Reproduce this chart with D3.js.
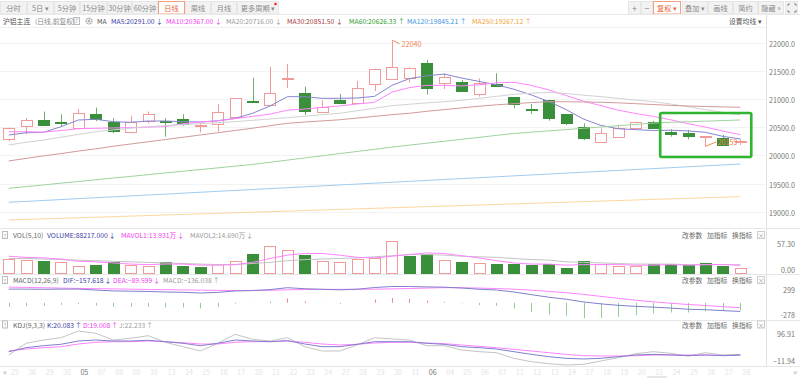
<!DOCTYPE html>
<html>
<head>
<meta charset="utf-8">
<script src="https://cdn.jsdelivr.net/npm/d3@7/dist/d3.min.js"></script>
<style>
body { margin: 0; background: #fff; }
text { font-family: "Noto Sans CJK SC", "Noto Sans", sans-serif; }
</style>
</head>
<body>
<script>
// ----------------------------------- DATA --------------------------------------------
var dates = ['04-25','04-26','04-29','04-30','05-06','05-07','05-08','05-09','05-10','05-13',
	'05-14','05-15','05-16','05-17','05-20','05-21','05-22','05-23','05-24','05-27',
	'05-28','05-29','05-30','05-31','06-03','06-04','06-05','06-06','06-07','06-11',
	'06-12','06-13','06-14','06-17','06-18','06-19','06-20','06-21','06-24','06-25',
	'06-26','06-27','06-28']

var opens  = [20284,20520,20626,20590,20479,20727,20596,20408,20608,20600,20638,20520,20550,20684,20970,20892,21348,21110,20768,20975,20922,21259,21353,21365,21631,21276,21294,21082,21264,21028,20825,20980,20732,20496,20241,20330,20479,20585,20418,20401,20330,20312,20250]
var highs  = [20490,20660,20775,20727,20820,20845,20660,20700,20775,20656,20727,20567,20905,21010,21376,21570,21620,21216,20975,21087,21317,21535,22040,21560,21690,21454,21335,21365,21454,21030,20910,20985,20735,20567,20479,20537,20600,20610,20461,20450,20335,20360,20290]
var lows   = [20250,20370,20530,20507,20470,20605,20390,20390,20565,20330,20525,20408,20420,20684,20950,20890,21190,20715,20768,20915,20920,21140,21350,21290,21080,21176,21128,21040,21225,20833,20732,20613,20537,20271,20241,20330,20479,20475,20330,20284,20159,20180,20183]
var closes = [20479,20626,20537,20580,20745,20644,20431,20596,20727,20590,20550,20530,20762,21010,20955,21099,21376,20785,20856,20922,21199,21530,21571,21543,21188,21394,21140,21276,21229,20910,20818,20656,20567,20301,20390,20479,20596,20479,20372,20342,20335,20183,20258]

// volume, in 万
var volumes = [25.1,23.3,22.0,19.1,12.0,14.3,19.1,14.3,13.1,20.2,12.0,11.3,15.6,21.5,33.5,48.3,41.2,31.7,21.5,19.7,24.5,26.3,57.3,30.4,33.5,23.3,20.2,17.4,15.6,15.6,14.3,15.6,9.5,21.5,15.6,12.5,12.5,15.6,16.2,14.3,17.4,13.1,8.8217]

var ma5   = [20360,20400,20408,20507,20626,20638,20596,20585,20608,20608,20596,20590,20613,20656,20745,20874,21039,21039,21010,21010,21016,21045,21240,21360,21410,21440,21370,21310,21250,21172,21070,20955,20810,20642,20530,20470,20455,20440,20445,20432,20408,20335,20291]
var ma10  = [20418,20418,20410,20440,20470,20479,20485,20490,20500,20510,20560,20590,20610,20650,20690,20730,20800,20820,20850,20875,20910,20940,21120,21200,21240,21240,21230,21250,21285,21294,21240,21160,21060,20960,20880,20800,20740,20690,20630,20560,20500,20430,20367]
var ma20  = [20183,20230,20270,20320,20370,20418,20450,20480,20507,20525,20545,20560,20580,20596,20620,20645,20667,20693,20720,20745,20790,20835,20880,20905,20930,20950,20975,21010,21045,21080,21100,21115,21095,21065,21040,21010,20980,20950,20910,20860,20810,20760,20716]
var ma30  = [19900,19945,19990,20030,20075,20115,20160,20200,20240,20280,20320,20360,20400,20440,20480,20525,20567,20590,20610,20630,20660,20690,20720,20745,20780,20810,20840,20870,20895,20915,20935,20950,20950,20945,20940,20930,20915,20900,20885,20875,20865,20858,20851.5]
var ma60  = [19415,19445,19475,19506,19536,19566,19596,19626,19657,19687,19717,19747,19777,19808,19838,19876,19915,19953,19991,20030,20068,20106,20145,20180,20214,20249,20284,20318,20353,20388,20410,20433,20456,20479,20502,20525,20548,20571,20585,20595,20605,20616,20626.33]
var ma120 = [19167,19183,19199,19215,19232,19248,19264,19280,19296,19312,19328,19345,19361,19377,19393,19409,19425,19441,19458,19474,19490,19506,19522,19538,19554,19571,19587,19603,19619,19635,19651,19667,19684,19700,19716,19732,19748,19764,19780,19797,19813,19829,19845.21]
var ma250 = [18853,18863,18873,18883,18892,18902,18912,18922,18932,18942,18952,18961,18971,18981,18991,19001,19011,19021,19030,19040,19050,19060,19070,19080,19090,19099,19109,19119,19129,19139,19149,19158,19168,19178,19188,19198,19208,19218,19227,19237,19247,19257,19267.12]

var mavol1 = [30,28,27,25,21,20,18,16,15,16,16,14,14,15,19,26,32,35,35,32,28,27,30,33,36,35,31,27,22,18,16,16,14,15,15,15,14,14,15,14,15,15,13.931]
var mavol2 = [26,26,25,24,23,22,21,20,19,18,17,16,15,15,17,19,22,24,25,26,27,29,31,33,33,32,30,29,28,26,24,23,20,19,18,17,16,16,16,15,15,15,14.69]

var dif  = [251,251,248,251,252,234,218,213,208,198,193,180,191,217,224,242,277,258,248,237,249,280,299,299,291,287,271,249,235,198,150,103,66,16,-19,-46,-65,-79,-96,-118,-126,-143,-157.618]
var dea  = [288,282,276,270,264,259,255,250,245,241,236,232,228,226,227,230,238,243,246,247,249,250,255,262,270,278,276,270,262,250,232,210,185,155,118,82,48,18,-8,-30,-50,-70,-89.599]
var macd = [-73,-61,-55,-37,-24,-49,-73,-73,-73,-85,-85,-104,-73,-18,-5,24,79,30,5,-20,0,61,88,74,43,18,-10,-43,-55,-104,-165,-214,-238,-278,-275,-256,-226,-195,-177,-177,-153,-146,-136.038]

var kLine = [30.7,43.5,49.9,54.3,64.9,68,64.9,64.9,67.1,62.7,57.5,49.9,57.5,68,64.9,62.7,66,55.3,46.7,46.7,54.3,62.7,62.7,62.7,57.5,54.3,46.7,43.5,39.3,30.7,22.2,14.7,9.5,7.3,9.5,14.7,20.1,22.2,20.1,17.9,20.1,17.9,20.083]
var dLine = [32.9,39.3,43.5,46.7,55.3,60.7,62.7,62.7,64.9,62.7,59.4,55.3,55.3,60.7,62.7,62.7,64.9,60.7,55.3,52.1,54.3,58.5,60.7,60.7,58.5,56.4,52.1,47.8,43.5,38.2,32.9,27.5,22.2,17.9,16.9,16.9,17.9,20.1,20.1,20.1,20.1,18.5,19.008]
var jLine = [20.1,57.5,68,75.5,96.91,89.5,68,73.5,81.9,60.7,46.7,32.9,57.5,86.3,70.3,64.9,75.5,46.7,32.9,32.9,52.1,75.5,71.3,68,49.9,49.9,36.1,30.7,27.5,9.5,-1.3,-7.7,-11.94,-9.7,0.9,11.5,24.3,30.7,25.5,16.9,27.5,20.1,22.233]

var priceTicks = [19000, 19500, 20000, 20500, 21000, 21500, 22000]
var volTicks = [0, 57.3]
var macdTicks = [-278, 299]
var kdjTicks = [-11.94, 96.91]

// ----------------------------------- SVG and BACKGROUND --------------------------------------------
var width = 800
var height = 378
var fs = 6.8

var svg = d3.select('body')
	.append('svg')
	.attr('width', width)
	.attr('height', height)

svg.append('rect')
	.attr('width', '100%')
	.attr('height', '100%')
	.attr('fill', '#ffffff')

function label(x, y, txt, color, anchor, size) {
	return svg.append('text')
		.attr('x', x)
		.attr('y', y)
		.attr('fill', color)
		.attr('font-size', size || fs)
		.attr('text-anchor', anchor || 'start')
		.attr('dominant-baseline', 'central')
		.text(txt)
}

function hline(y, x1, x2, color) {
	svg.append('line')
		.attr('x1', x1).attr('x2', x2)
		.attr('y1', y).attr('y2', y)
		.attr('stroke', color)
}

function arrow(arr) {
	return arr[arr.length - 1] < arr[arr.length - 2] ? '↓' : '↑'
}

// ----------------------------------- SCALES --------------------------------------------
var x = d3.scaleBand().domain(dates).range([0, 749])
var cx = function(i) { return x(dates[i]) + x.bandwidth() / 2 }
var px = function(i) { return Math.round(cx(i)) + 0.5 }

var yMain = d3.scaleLinear().domain([19000, 22000]).range([211.7, 42.5])
var yVol  = d3.scaleLinear().domain([0, 57.3]).range([273, 241])
var yMacd = d3.scaleLinear().domain([-278, 299]).range([318, 286.5])
var yKdj  = d3.scaleLinear().domain([-11.94, 96.91]).range([365, 331])

var red = '#f09a9a'
var green = '#3a8f3a'
var greenWick = '#6aae6a'

// ----------------------------------- TOOLBAR --------------------------------------------
var tabs = ['分时', '5日 ▾', '5分钟', '15分钟', '30分钟', '60分钟', '日线', '周线', '月线', '更多周期 ▾']
var tabX = [0, 27, 54, 80, 107, 132, 158, 185, 211, 237]
var tabW = [26, 26, 25, 26, 24, 25, 26, 25, 25, 41]

tabs.forEach(function(t, i) {
	var active = t === '日线'
	svg.append('rect')
		.attr('x', tabX[i] + 0.5).attr('y', 1.5)
		.attr('width', tabW[i]).attr('height', 12.5)
		.attr('fill', active ? '#ffffff' : '#f2f2f2')
		.attr('stroke', active ? '#f2a07e' : '#e6e6e6')
	label(tabX[i] + tabW[i] / 2 + 0.5, 8, t, active ? '#e8663c' : '#8a8a8a', 'middle', 7.2)
})
svg.append('circle').attr('cx', 275.5).attr('cy', 4).attr('r', 1.3).attr('fill', '#e23')

var tools = ['+', '−', '复权 ▾', '叠加 ▾', '画线', '简约', '隐藏 »', '']
var toolX = [628, 641, 653, 682, 708, 733, 758, 785]
var toolW = [12, 11, 27, 25, 24, 24, 25, 12]
tools.forEach(function(t, i) {
	var active = t === '复权 ▾'
	svg.append('rect')
		.attr('x', toolX[i] + 0.5).attr('y', 1.5)
		.attr('width', toolW[i]).attr('height', 12.5)
		.attr('fill', active ? '#ffffff' : '#f2f2f2')
		.attr('stroke', active ? '#f2a07e' : '#e6e6e6')
	label(toolX[i] + toolW[i] / 2 + 0.5, 8, t, active ? '#e8663c' : '#8a8a8a', 'middle', t.length === 1 ? 9 : 7.2)
})
// full screen corners
svg.append('path')
	.attr('d', 'M788,6 v-2 h2 M794,4 h2 v2 M796,10 v2 h-2 M790,12 h-2 v-2')
	.attr('fill', 'none').attr('stroke', '#888')

hline(14.5, 0, 800, '#e8e8e8')
hline(27.5, 0, 766, '#efefef')

// ----------------------------------- LEGEND ROW --------------------------------------------
label(3, 21, '沪铝主连', '#555')
label(35, 21, '(日线,前复权)', '#8a8a8a')
svg.append('rect').attr('x', 73.5).attr('y', 17.5).attr('width', 6).attr('height', 7)
	.attr('fill', 'none').attr('stroke', '#bbb')
label(76.5, 21, '?', '#888', 'middle', 5.5)
svg.append('circle').attr('cx', 89).attr('cy', 21).attr('r', 3).attr('fill', 'none').attr('stroke', '#999').attr('stroke-width', 1.2).attr('stroke-dasharray', '1.3,0.7')
svg.append('circle').attr('cx', 89).attr('cy', 21).attr('r', 1.1).attr('fill', 'none').attr('stroke', '#999')
label(97, 21, 'MA', '#555')

var maSeries = [
	{name: 'MA5',   vals: ma5,   text: '#3c3ca6', line: '#8585cf', lx: 111},
	{name: 'MA10',  vals: ma10,  text: '#f03cf0', line: '#ff84ff', lx: 166},
	{name: 'MA20',  vals: ma20,  text: '#9a9a9a', line: '#d2d2d2', lx: 226},
	{name: 'MA30',  vals: ma30,  text: '#a83a3a', line: '#d39a9a', lx: 287},
	{name: 'MA60',  vals: ma60,  text: '#2f9a2f', line: '#9fd39f', lx: 349},
	{name: 'MA120', vals: ma120, text: '#3a94dc', line: '#9fcbf1', lx: 407},
	{name: 'MA250', vals: ma250, text: '#f0a437', line: '#fdd79f', lx: 472}
]

maSeries.forEach(function(s) {
	var t = label(s.lx, 21, '', s.text)
	t.append('tspan').text(s.name + ':' + d3.format('.2f')(s.vals[s.vals.length - 1]))
	t.append('tspan').attr('dx', 1.5).text(arrow(s.vals))
})
label(729, 21, '设置均线 ▾', '#555')

// ----------------------------------- FRAMES --------------------------------------------
svg.append('line').attr('x1', 766.5).attr('x2', 766.5).attr('y1', 15).attr('y2', 367).attr('stroke', '#e2e2e2')
priceTicks.forEach(function(t) {
	hline(Math.round(yMain(t)) + 0.5, 0, 766, '#f3f3f3')
	label(795, yMain(t) + 1, d3.format('.1f')(t), '#777', 'end', 7.2)
})
hline(228.5, 0, 800, '#e6e6e6')
hline(274.5, 0, 800, '#e6e6e6')
hline(320.5, 0, 800, '#e6e6e6')
hline(366.5, 0, 800, '#e6e6e6')

// ----------------------------------- CANDLES --------------------------------------------
var candles = svg.append('g')
dates.forEach(function(d, i) {
	var up = closes[i] >= opens[i]
	var top = Math.round(yMain(Math.max(opens[i], closes[i])))
	var bot = Math.round(yMain(Math.min(opens[i], closes[i])))
	candles.append('line')
		.attr('x1', px(i)).attr('x2', px(i))
		.attr('y1', yMain(highs[i])).attr('y2', yMain(lows[i]))
		.attr('stroke', up ? red : greenWick)
	candles.append('rect')
		.attr('x', Math.round(cx(i) - 5.5) + 0.5)
		.attr('y', top + 0.5)
		.attr('width', 11)
		.attr('height', Math.max(bot - top, 1))
		.attr('fill', up ? '#ffffff' : green)
		.attr('stroke', up ? red : green)
})

// ----------------------------------- MA LINES --------------------------------------------
maSeries.forEach(function(s) {
	svg.append('path')
		.datum(s.vals)
		.attr('fill', 'none')
		.attr('stroke', s.line)
		.attr('stroke-width', 1)
		.attr('d', d3.line().x(function(d, i) { return cx(i) }).y(function(d) { return yMain(d) }))
})

// ----------------------------------- HIGH / LOW MARKS --------------------------------------------
var hi = d3.maxIndex(highs)
var lo = d3.minIndex(lows)
svg.append('path')
	.attr('d', 'M' + px(hi) + ',' + yMain(highs[hi]) + ' L' + (px(hi) + 7) + ',' + (yMain(highs[hi]) + 3.5))
	.attr('stroke', '#f08a5a').attr('fill', 'none')
label(px(hi) + 9, yMain(highs[hi]) + 4, highs[hi], '#f0844f', 'start', 7.2)
svg.append('path')
	.attr('d', 'M' + px(lo) + ',' + yMain(lows[lo]) + ' L' + (px(lo) + 11) + ',' + (yMain(lows[lo]) - 4.5))
	.attr('stroke', '#f08a5a').attr('fill', 'none')
label(px(lo) + 12, yMain(lows[lo]) - 4.5, lows[lo], '#f0844f', 'start', 7.2)

// highlight box around the last days
svg.append('rect')
	.attr('x', cx(37) + 7).attr('y', yMain(20750))
	.attr('width', cx(42) + 11 - cx(37) - 7)
	.attr('height', yMain(19970) - yMain(20750))
	.attr('rx', 1.5)
	.attr('fill', 'none')
	.attr('stroke', '#2fb52f')
	.attr('stroke-width', 2.6)

// ----------------------------------- SUB PANEL HEADERS --------------------------------------------
function panelHeader(y, name, items) {
	svg.append('rect').attr('x', 2.5).attr('y', y - 3.5).attr('width', 5).attr('height', 7)
		.attr('fill', 'none').attr('stroke', '#bbb')
	label(5, y, '?', '#999', 'middle', 5)
	label(13, y, name, '#666')
	items.forEach(function(it) {
		var t = label(it.x, y, '', it.color)
		t.append('tspan').text(it.text)
		t.append('tspan').attr('dx', 1).text(it.arrow)
	})
	label(682, y, '改参数', '#666')
	label(707, y, '加指标', '#666')
	label(732, y, '换指标', '#666')
	svg.append('rect').attr('x', 757.5).attr('y', y - 3.5).attr('width', 7).attr('height', 7)
		.attr('fill', '#fff').attr('stroke', '#ccc')
	label(761, y, '×', '#999', 'middle', 7)
}

var last = volumes.length - 1
panelHeader(235, 'VOL(5,10)', [
	{x: 47, color: '#3c3ca6', text: 'VOLUME:' + d3.format('.3f')(Math.round(volumes[last] * 10000)), arrow: arrow(volumes)},
	{x: 121, color: '#f03cf0', text: 'MAVOL1:' + d3.format('.3f')(mavol1[last]) + '万', arrow: arrow(mavol1)},
	{x: 190, color: '#9a9a9a', text: 'MAVOL2:' + d3.format('.3f')(mavol2[last]) + '万', arrow: arrow(mavol2)}
])
panelHeader(280, 'MACD(12,26,9)', [
	{x: 63, color: '#3c3ca6', text: 'DIF:' + d3.format('.3f')(dif[last]), arrow: arrow(dif)},
	{x: 113, color: '#f03cf0', text: 'DEA:' + d3.format('.3f')(dea[last]), arrow: arrow(dea)},
	{x: 163, color: '#9a9a9a', text: 'MACD:' + d3.format('.3f')(macd[last]), arrow: arrow(macd)}
])
panelHeader(324.5, 'KDJ(9,3,3)', [
	{x: 47, color: '#3c3ca6', text: 'K:' + d3.format('.3f')(kLine[last]), arrow: arrow(kLine)},
	{x: 83, color: '#f03cf0', text: 'D:' + d3.format('.3f')(dLine[last]), arrow: arrow(dLine)},
	{x: 119, color: '#9a9a9a', text: 'J:' + d3.format('.3f')(jLine[last]), arrow: arrow(jLine)}
])

// ----------------------------------- VOLUME --------------------------------------------
dates.forEach(function(d, i) {
	var up = i === 0 ? true : closes[i] >= closes[i - 1]
	var top = Math.round(yVol(volumes[i]))
	svg.append('rect')
		.attr('x', Math.round(cx(i) - 5.5) + 0.5)
		.attr('y', top + 0.5)
		.attr('width', 11)
		.attr('height', Math.round(yVol(0)) - top)
		.attr('fill', up ? '#ffffff' : green)
		.attr('stroke', up ? red : green)
})
label(795, yVol(57.3) + 2.5, d3.format('.2f')(volTicks[1]), '#777', 'end', 7.2)
label(795, yVol(0) - 3.5, d3.format('.2f')(volTicks[0]), '#777', 'end', 7.2)

var volLine = d3.line().x(function(d, i) { return cx(i) }).y(function(d) { return yVol(d) })
svg.append('path').datum(mavol2).attr('fill', 'none').attr('stroke', '#c4c4c4').attr('d', volLine)
svg.append('path').datum(mavol1).attr('fill', 'none').attr('stroke', '#ff84ff').attr('d', volLine)

// ----------------------------------- MACD --------------------------------------------
macd.forEach(function(v, i) {
	svg.append('line')
		.attr('x1', px(i)).attr('x2', px(i))
		.attr('y1', yMacd(0)).attr('y2', yMacd(v))
		.attr('stroke', v >= 0 ? '#f08a8a' : '#8fcf8f')
})
var macdLine = d3.line().x(function(d, i) { return cx(i) }).y(function(d) { return yMacd(d) })
svg.append('path').datum(dea).attr('fill', 'none').attr('stroke', '#ff84ff').attr('d', macdLine)
svg.append('path').datum(dif).attr('fill', 'none').attr('stroke', '#7f7fcc').attr('d', macdLine)
label(795, yMacd(299) + 3.5, macdTicks[1], '#777', 'end', 7.2)
label(795, yMacd(-278) - 3, macdTicks[0], '#777', 'end', 7.2)

// ----------------------------------- KDJ --------------------------------------------
var kdjLine = d3.line().x(function(d, i) { return cx(i) }).y(function(d) { return yKdj(d) })
svg.append('path').datum(jLine).attr('fill', 'none').attr('stroke', '#c4c4c4').attr('d', kdjLine)
svg.append('path').datum(dLine).attr('fill', 'none').attr('stroke', '#ff84ff').attr('d', kdjLine)
svg.append('path').datum(kLine).attr('fill', 'none').attr('stroke', '#7f7fcc').attr('d', kdjLine)
label(795, yKdj(96.91) + 2.5, d3.format('.2f')(kdjTicks[1]), '#777', 'end', 7.2)
label(795, yKdj(-11.94) - 4, d3.format('.2f')(kdjTicks[0]), '#777', 'end', 7.2)

// ----------------------------------- DATE AXIS --------------------------------------------
dates.forEach(function(d, i) {
	var month = d.slice(0, 2)
	var first = i > 0 && dates[i - 1].slice(0, 2) !== month
	label(cx(i) + 2, 371.5, first ? month : d.slice(3), first ? '#777' : '#e4e4e4', 'start', 7.2)
})
label(3, 371, '«', '#aaa', 'start', 8)
label(797, 371, '»', '#aaa', 'end', 8)
svg.append('rect').attr('x', 647).attr('y', 376).attr('width', 20).attr('height', 2).attr('fill', '#e6e6e6')
</script>
</body>
</html>
